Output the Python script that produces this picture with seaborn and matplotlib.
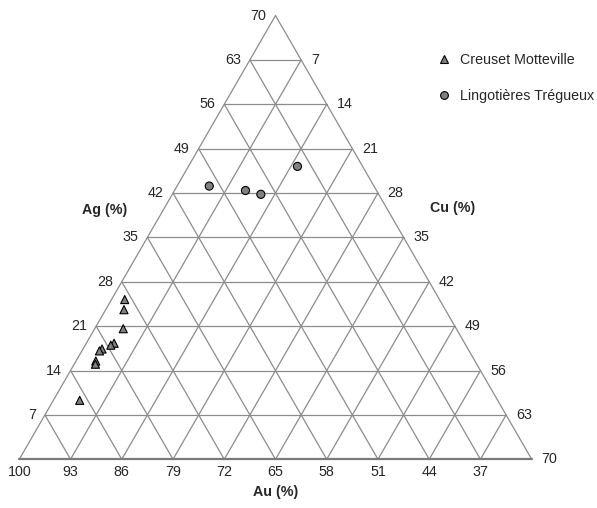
import numpy as np
import pandas as pd
import matplotlib
matplotlib.use('Agg')
import matplotlib.pyplot as plt
from matplotlib.lines import Line2D
import seaborn as sns

# Data (wt %)
motteville_au = [73.0, 73.9, 75.5, 77.9, 78.5, 80.0, 80.5, 81.8, 82.1, 87.1]
motteville_ag = [25.2, 23.6, 20.6, 18.3, 18.0, 17.4, 17.1, 15.5, 15.0, 9.3]
motteville_cu = [1.8, 2.5, 3.9, 3.8, 3.5, 2.6, 2.4, 2.7, 2.9, 3.6]

tregueux_au = [52.5, 47.9, 46.1, 38.9]
tregueux_ag = [43.1, 42.4, 41.8, 46.2]
tregueux_cu = [4.4, 9.7, 12.1, 14.9]

groups = ['Creuset Motteville', 'Lingotières Trégueux']
grid_steps = [7, 14, 21, 28, 35, 42, 49, 56, 63]
ag_labels = [7, 14, 21, 28, 35, 42, 49, 56, 63, 70]
cu_labels = [7, 14, 21, 28, 35, 42, 49, 56, 63, 70]
au_labels = [100, 93, 86, 79, 72, 65, 58, 51, 44, 37]

SPAN = 70.0
H = np.sqrt(3) / 2
GRID = '#8c8c8c'


def project(ag, cu):
    ag = np.asarray(ag, dtype=float) / SPAN
    cu = np.asarray(cu, dtype=float) / SPAN
    return cu + ag / 2, ag * H


df = pd.DataFrame({
    'Au': motteville_au + tregueux_au,
    'Ag': motteville_ag + tregueux_ag,
    'Cu': motteville_cu + tregueux_cu,
    'group': [groups[0]] * len(motteville_au) + [groups[1]] * len(tregueux_au),
})
df['x'], df['y'] = project(df['Ag'], df['Cu'])

sns.set_style('white')
plt.rcParams['font.family'] = ['Liberation Sans', 'DejaVu Sans']

fig = plt.figure(figsize=(5.97, 5.08), dpi=100)
ax = fig.add_axes([0, 0, 1, 1])
ax.set_xlim(-19.3 / 512.4, (597 - 19.3) / 512.4)
ax.set_ylim(-48.7 / 512.4, (508 - 48.7) / 512.4)
ax.axis('off')

# grid lines
for v in grid_steps:
    x, y = project([v, v], [0, SPAN - v])
    ax.plot(x, y, color=GRID, lw=0.9, zorder=1)
    x, y = project([0, SPAN - v], [v, v])
    ax.plot(x, y, color=GRID, lw=0.9, zorder=1)
    x, y = project([SPAN - v, 0], [0, SPAN - v])
    ax.plot(x, y, color=GRID, lw=0.9, zorder=1)

# outline
x, y = project([0, SPAN], [0, 0])
ax.plot(x, y, color=GRID, lw=0.9, zorder=1)
x, y = project([0, SPAN], [SPAN, 0])
ax.plot(x, y, color=GRID, lw=0.9, zorder=1)
x, y = project([0, 0], [0, SPAN])
ax.plot(x, y, color='#7a7a7a', lw=1.6, zorder=1)

# tick labels
fs = 10.3
for v in ag_labels:
    x, y = project(v, 0)
    ax.annotate(str(v), (x, y), xytext=(-6.5, 0), textcoords='offset points',
                ha='right', va='center', fontsize=fs)
for v in cu_labels:
    x, y = project(SPAN - v, v)
    ax.annotate(str(v), (x, y), xytext=(7, 0), textcoords='offset points',
                ha='left', va='center', fontsize=fs)
for v in au_labels:
    x, y = project(0, 100 - v)
    ax.annotate(str(v), (x, y), xytext=(0, -9), textcoords='offset points',
                ha='center', va='center', fontsize=fs)

fig.text(105 / 597, 1 - 210 / 508, 'Ag (%)', ha='center', va='center', fontsize=fs, fontweight='bold')
fig.text(453 / 597, 1 - 208 / 508, 'Cu (%)', ha='center', va='center', fontsize=fs, fontweight='bold')
fig.text(276 / 597, 1 - 492 / 508, 'Au (%)', ha='center', va='center', fontsize=fs, fontweight='bold')

# points
sns.scatterplot(data=df, x='x', y='y', style='group', markers={groups[0]: '^', groups[1]: 'o'},
                color='#808080', edgecolor='black', linewidth=0.8, s=34, ax=ax,
                legend=False, zorder=3)

handles = [
    Line2D([], [], marker='^', ls='', color='#808080', markeredgecolor='black', markeredgewidth=0.8, markersize=5.6),
    Line2D([], [], marker='o', ls='', color='#808080', markeredgecolor='black', markeredgewidth=0.8, markersize=5.6),
]
ax.legend(handles, groups, loc='upper left', bbox_to_anchor=(437 / 597, 1 - 53 / 508),
          bbox_transform=fig.transFigure, frameon=False, fontsize=fs,
          handlelength=1.0, handletextpad=0.6, labelspacing=1.52,
          borderpad=0, borderaxespad=0)

fig.savefig('out.png', dpi=100)
